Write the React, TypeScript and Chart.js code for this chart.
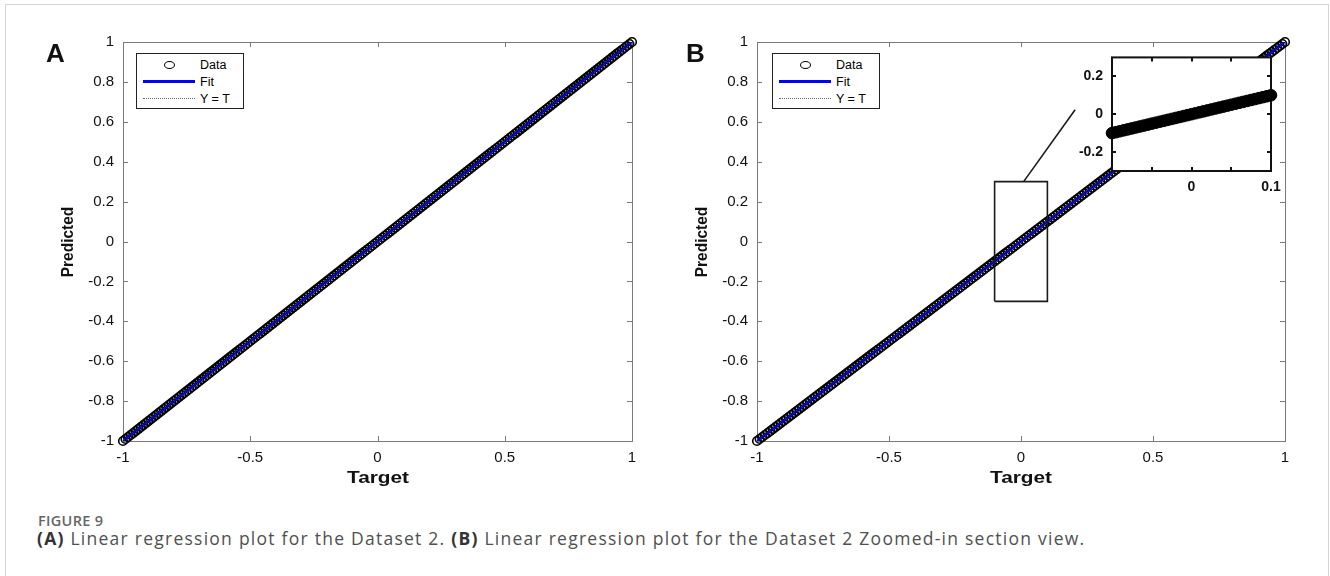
import React, { useEffect, useRef } from "react";
import { Chart, registerables } from "chart.js";

Chart.register(...registerables);

// ---------------- DATA ----------------
const targetValues = [
  -1, -0.99, -0.98, -0.97, -0.96, -0.95, -0.94, -0.93, -0.92, -0.91,
  -0.9, -0.89, -0.88, -0.87, -0.86, -0.85, -0.84, -0.83, -0.82, -0.81,
  -0.8, -0.79, -0.78, -0.77, -0.76, -0.75, -0.74, -0.73, -0.72, -0.71,
  -0.7, -0.69, -0.68, -0.67, -0.66, -0.65, -0.64, -0.63, -0.62, -0.61,
  -0.6, -0.59, -0.58, -0.57, -0.56, -0.55, -0.54, -0.53, -0.52, -0.51,
  -0.5, -0.49, -0.48, -0.47, -0.46, -0.45, -0.44, -0.43, -0.42, -0.41,
  -0.4, -0.39, -0.38, -0.37, -0.36, -0.35, -0.34, -0.33, -0.32, -0.31,
  -0.3, -0.29, -0.28, -0.27, -0.26, -0.25, -0.24, -0.23, -0.22, -0.21,
  -0.2, -0.19, -0.18, -0.17, -0.16, -0.15, -0.14, -0.13, -0.12, -0.11,
  -0.1, -0.09, -0.08, -0.07, -0.06, -0.05, -0.04, -0.03, -0.02, -0.01,
  0, 0.01, 0.02, 0.03, 0.04, 0.05, 0.06, 0.07, 0.08, 0.09,
  0.1, 0.11, 0.12, 0.13, 0.14, 0.15, 0.16, 0.17, 0.18, 0.19,
  0.2, 0.21, 0.22, 0.23, 0.24, 0.25, 0.26, 0.27, 0.28, 0.29,
  0.3, 0.31, 0.32, 0.33, 0.34, 0.35, 0.36, 0.37, 0.38, 0.39,
  0.4, 0.41, 0.42, 0.43, 0.44, 0.45, 0.46, 0.47, 0.48, 0.49,
  0.5, 0.51, 0.52, 0.53, 0.54, 0.55, 0.56, 0.57, 0.58, 0.59,
  0.6, 0.61, 0.62, 0.63, 0.64, 0.65, 0.66, 0.67, 0.68, 0.69,
  0.7, 0.71, 0.72, 0.73, 0.74, 0.75, 0.76, 0.77, 0.78, 0.79,
  0.8, 0.81, 0.82, 0.83, 0.84, 0.85, 0.86, 0.87, 0.88, 0.89,
  0.9, 0.91, 0.92, 0.93, 0.94, 0.95, 0.96, 0.97, 0.98, 0.99,
  1,
];
// perfect regression: predicted equals target
const predictedValues = targetValues;

const fitX = [-1, 1];
const fitY = [-1, 1];
const identityX = [-1, 1];
const identityY = [-1, 1];

// zoomed-in section (panel B)
const zoomTarget = [
  -0.1, -0.095, -0.09, -0.085, -0.08, -0.075, -0.07, -0.065, -0.06, -0.055,
  -0.05, -0.045, -0.04, -0.035, -0.03, -0.025, -0.02, -0.015, -0.01, -0.005,
  0, 0.005, 0.01, 0.015, 0.02, 0.025, 0.03, 0.035, 0.04, 0.045,
  0.05, 0.055, 0.06, 0.065, 0.07, 0.075, 0.08, 0.085, 0.09, 0.095, 0.1,
];
const zoomPredicted = zoomTarget;

const zoomBoxX = [-0.1, 0.1, 0.1, -0.1, -0.1];
const zoomBoxY = [-0.3, -0.3, 0.3, 0.3, -0.3];
const connectorX = [0.01, 0.205];
const connectorY = [0.3, 0.66];

const mainTickStepX = 0.5;
const mainTickStepY = 0.2;
const insetTicksX = [-0.1, -0.05, 0, 0.05, 0.1];
const insetTickLabelsX = ["", "", "0", "", "0.1"];
const insetTicksY = [-0.2, 0, 0.2];
const insetTickLabelsY = ["-0.2", "0", "0.2"];

const legendLabels = ["Data", "Fit", "Y = T"];

// ---------------- HELPERS ----------------
const FONT = '"Liberation Sans", Arial, Helvetica, sans-serif';
Chart.defaults.font.family = FONT;

const pts = (xs: number[], ys: number[]) => xs.map((x, i) => ({ x, y: ys[i] }));
const fmt = (v: number) => String(Number(Number(v).toFixed(2)));

const boxPlugin = {
  id: "matlabBox",
  beforeDatasetsDraw(chart: any, _args: any, opts: any) {
    const { ctx, chartArea: a, scales } = chart;
    ctx.save();
    if (opts.fill) {
      ctx.fillStyle = opts.fill;
      ctx.fillRect(a.left, a.top, a.right - a.left, a.bottom - a.top);
    }
    ctx.strokeStyle = opts.color;
    ctx.lineWidth = opts.width;
    const off = opts.width % 2 === 1 ? 0.5 : 0;
    ctx.strokeRect(a.left + off, a.top + off, a.right - a.left, a.bottom - a.top);
    const L = opts.tick;
    ctx.beginPath();
    scales.x.ticks.forEach((t: any) => {
      const px = Math.round(scales.x.getPixelForValue(t.value)) + off;
      ctx.moveTo(px, a.bottom);
      ctx.lineTo(px, a.bottom - L);
      ctx.moveTo(px, a.top);
      ctx.lineTo(px, a.top + L);
    });
    scales.y.ticks.forEach((t: any) => {
      const py = Math.round(scales.y.getPixelForValue(t.value)) + off;
      ctx.moveTo(a.left, py);
      ctx.lineTo(a.left + L, py);
      ctx.moveTo(a.right, py);
      ctx.lineTo(a.right - L, py);
    });
    ctx.stroke();
    ctx.restore();
  },
};

function mainConfig(yWidth: number, rightPad: number, withZoom: boolean): any {
  const datasets: any[] = [
    {
      label: legendLabels[2],
      data: pts(identityX, identityY),
      showLine: true,
      borderColor: "#000",
      borderWidth: 1,
      borderDash: [1, 2],
      pointRadius: 0,
      order: 0,
    },
    {
      label: legendLabels[1],
      data: pts(fitX, fitY),
      showLine: true,
      borderColor: "#0000ff",
      borderWidth: 2,
      pointRadius: 0,
      order: 1,
    },
    {
      label: legendLabels[0],
      data: pts(targetValues, predictedValues),
      showLine: false,
      pointStyle: "circle",
      pointRadius: 4.3,
      pointBorderWidth: 1.6,
      pointBorderColor: "#000",
      pointBackgroundColor: "rgba(0,0,0,0)",
      clip: false,
      order: 2,
    },
  ];
  if (withZoom) {
    datasets.push(
      {
        label: "zoom",
        data: pts(zoomBoxX, zoomBoxY),
        showLine: true,
        borderColor: "#1a1a1a",
        borderWidth: 1.6,
        pointRadius: 0,
        order: -1,
      },
      {
        label: "connector",
        data: pts(connectorX, connectorY),
        showLine: true,
        borderColor: "#1a1a1a",
        borderWidth: 1.6,
        pointRadius: 0,
        clip: false,
        order: -1,
      }
    );
  }
  return {
    type: "scatter",
    data: { datasets },
    plugins: [boxPlugin],
    options: {
      animation: false,
      responsive: false,
      devicePixelRatio: 1,
      events: [],
      layout: { padding: { left: 0, top: 42, right: rightPad, bottom: 0 } },
      plugins: {
        legend: { display: false },
        tooltip: { enabled: false },
        matlabBox: { color: "#7a7a7a", width: 1, tick: 5 },
      },
      scales: {
        x: {
          type: "linear",
          min: -1,
          max: 1,
          grid: { display: false, drawTicks: false },
          border: { display: false },
          ticks: {
            stepSize: mainTickStepX,
            color: "#111",
            font: { size: 15 },
            padding: 8,
            maxRotation: 0,
            callback: (v: number) => fmt(v),
          },
          afterFit: (s: any) => {
            s.height = 59;
          },
        },
        y: {
          type: "linear",
          min: -1,
          max: 1,
          grid: { display: false, drawTicks: false },
          border: { display: false },
          ticks: {
            stepSize: mainTickStepY,
            color: "#111",
            font: { size: 15 },
            padding: 9,
            callback: (v: number) => fmt(v),
          },
          afterFit: (s: any) => {
            s.width = yWidth;
          },
        },
      },
    },
  };
}

function insetConfig(): any {
  return {
    type: "scatter",
    data: {
      datasets: [
        {
          label: "zoomed data",
          data: pts(zoomTarget, zoomPredicted),
          pointStyle: "circle",
          pointRadius: 5.8,
          pointBorderWidth: 1,
          pointBorderColor: "#000",
          pointBackgroundColor: "#000",
          clip: false,
        },
      ],
    },
    plugins: [boxPlugin],
    options: {
      animation: false,
      responsive: false,
      devicePixelRatio: 1,
      events: [],
      layout: { padding: { left: 0, top: 13, right: 19, bottom: 0 } },
      plugins: {
        legend: { display: false },
        tooltip: { enabled: false },
        matlabBox: { color: "#111", width: 2, tick: 4, fill: "#fff" },
      },
      scales: {
        x: {
          type: "linear",
          min: -0.1,
          max: 0.1,
          grid: { display: false, drawTicks: false },
          border: { display: false },
          afterBuildTicks: (s: any) => {
            s.ticks = insetTicksX.map((value) => ({ value }));
          },
          ticks: {
            color: "#111",
            font: { size: 14, weight: "bold" },
            padding: 8,
            maxRotation: 0,
            autoSkip: false,
            callback: (_v: number, i: number) => insetTickLabelsX[i],
          },
          afterFit: (s: any) => {
            s.height = 34;
          },
        },
        y: {
          type: "linear",
          min: -0.3,
          max: 0.3,
          grid: { display: false, drawTicks: false },
          border: { display: false },
          afterBuildTicks: (s: any) => {
            s.ticks = insetTicksY.map((value) => ({ value }));
          },
          ticks: {
            color: "#111",
            font: { size: 14, weight: "bold" },
            padding: 9,
            autoSkip: false,
            callback: (_v: number, i: number) => insetTickLabelsY[i],
          },
          afterFit: (s: any) => {
            s.width = 52;
          },
        },
      },
    },
  };
}

function ChartCanvas(props: { left: number; top: number; width: number; height: number; make: () => any }) {
  const ref = useRef<HTMLCanvasElement>(null);
  useEffect(() => {
    const chart = new Chart(ref.current as HTMLCanvasElement, props.make());
    return () => chart.destroy();
  }, []);
  return (
    <canvas
      ref={ref}
      width={props.width}
      height={props.height}
      style={{ position: "absolute", left: props.left, top: props.top, width: props.width, height: props.height }}
    />
  );
}

function Legend(props: { left: number; top: number }) {
  const row = (y: number): React.CSSProperties => ({
    position: "absolute",
    left: 63,
    top: y - 8,
    height: 16,
    lineHeight: "16px",
    fontSize: 12.5,
    color: "#000",
    whiteSpace: "nowrap",
  });
  return (
    <div
      style={{
        position: "absolute",
        left: props.left,
        top: props.top,
        width: 108,
        height: 56,
        border: "1px solid #222",
        boxSizing: "border-box",
        background: "#fff",
        fontFamily: FONT,
      }}
    >
      <div
        style={{
          position: "absolute",
          left: 27,
          top: 7,
          width: 11,
          height: 8,
          border: "1px solid #000",
          borderRadius: "50%",
          boxSizing: "border-box",
        }}
      />
      <div style={{ position: "absolute", left: 6, top: 26, width: 52, height: 3, background: "#0000ff" }} />
      <div style={{ position: "absolute", left: 6, top: 44, width: 52, height: 0, borderTop: "1px dotted #666" }} />
      <div style={row(11)}>{legendLabels[0]}</div>
      <div style={row(28)}>{legendLabels[1]}</div>
      <div style={row(45)}>{legendLabels[2]}</div>
    </div>
  );
}

const boldLabel: React.CSSProperties = {
  position: "absolute",
  fontFamily: FONT,
  fontWeight: "bold",
  color: "#111",
  whiteSpace: "nowrap",
  lineHeight: 1,
};

function AxisTitles(props: { plotLeft: number; centerX: number }) {
  return (
    <>
      <div
        style={{
          ...boldLabel,
          fontSize: 15.5,
          left: props.plotLeft - 56,
          top: 242,
          transform: "translate(-50%, -50%) rotate(-90deg) scaleY(1.1)",
        }}
      >
        Predicted
      </div>
      <div
        style={{
          ...boldLabel,
          fontSize: 16,
          left: props.centerX,
          top: 478,
          transform: "translate(-50%, -50%) scaleX(1.3)",
        }}
      >
        Target
      </div>
    </>
  );
}

export default function App() {
  return (
    <div
      style={{
        position: "absolute",
        left: 0,
        top: 0,
        width: 1330,
        height: 576,
        overflow: "hidden",
        background: "#fff",
      }}
    >
      <div
        style={{
          position: "absolute",
          left: 5,
          top: 4,
          width: 1324,
          height: 640,
          border: "1px solid #d4d4d4",
          boxSizing: "border-box",
        }}
      />
      <ChartCanvas left={0} top={0} width={665} height={500} make={() => mainConfig(123, 33, false)} />
      <ChartCanvas left={665} top={0} width={665} height={500} make={() => mainConfig(92, 45, true)} />
      <ChartCanvas left={1060} top={40} width={230} height={165} make={insetConfig} />

      <Legend left={136} top={53} />
      <Legend left={772} top={53} />

      <div style={{ ...boldLabel, fontSize: 26, left: 46, top: 40 }}>A</div>
      <div style={{ ...boldLabel, fontSize: 26, left: 686, top: 40 }}>B</div>

      <AxisTitles plotLeft={123} centerX={378} />
      <AxisTitles plotLeft={757} centerX={1021} />

      <div
        style={{
          position: "absolute",
          left: 38,
          top: 513,
          fontFamily: '"Open Sans", "Noto Sans", sans-serif',
          fontSize: 14.5,
          lineHeight: "16px",
          fontWeight: 600,
          color: "#666",
          letterSpacing: 0.3,
          whiteSpace: "nowrap",
        }}
      >
        FIGURE 9
      </div>
      <div
        style={{
          position: "absolute",
          left: 37,
          top: 528,
          fontFamily: '"Open Sans", "Noto Sans", sans-serif',
          fontSize: 17.5,
          lineHeight: "20px",
          color: "#505050",
          letterSpacing: 1.25,
          whiteSpace: "nowrap",
        }}
      >
        <b style={{ color: "#333" }}>(A)</b> Linear regression plot for the Dataset 2.{" "}
        <b style={{ color: "#333" }}>(B)</b> Linear regression plot for the Dataset 2 Zoomed-in section view.
      </div>
    </div>
  );
}
